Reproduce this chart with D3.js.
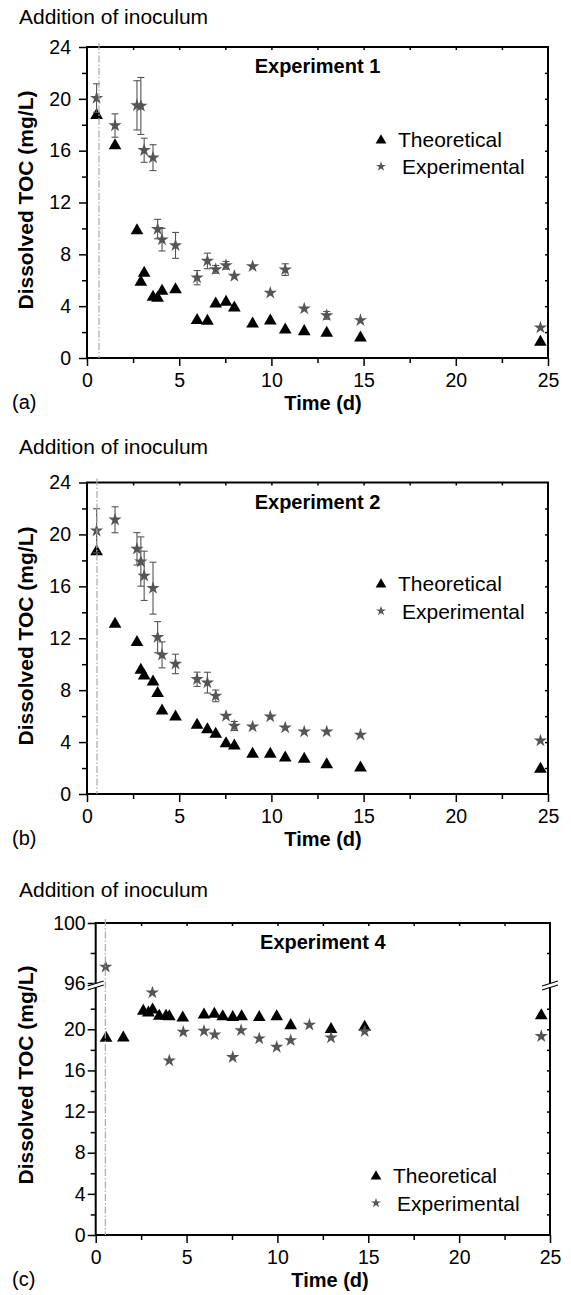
<!DOCTYPE html>
<html>
<head>
<meta charset="utf-8">
<script src="https://cdn.jsdelivr.net/npm/d3@7"></script>
<style>
  body { margin: 0; background: #fff; }
  svg { display: block; font-family: "Liberation Sans", Arial, sans-serif; }
</style>
</head>
<body>
<div id="chart"></div>
<script>
// sampling days shared by experiments 1 and 2 (d)
const daysAB = [0.52, 1.52, 2.71, 2.92, 3.1, 3.58, 3.83, 4.07, 4.8, 5.97, 6.53, 6.98, 7.54, 7.99, 8.98, 9.94, 10.75, 11.78, 13.0, 14.83, 24.59];

// experiment 1 (mg/L)
const exp1Toc  = [20.06, 17.94, 19.5, 19.45, 16.03, 15.46, 9.95, 9.13, 8.69, 6.2, 7.49, 6.84, 7.15, 6.33, 7.07, 5.02, 6.82, 3.81, 3.29, 2.91, 2.34];
const exp1Err  = [1.1, 0.9, 1.9, 2.2, 0.93, 1.0, 0.75, 0.87, 1.0, 0.55, 0.6, 0.3, 0.3, 0, 0, 0, 0.45, 0, 0.3, 0, 0];
const theo1Toc = [18.86, 16.54, 9.98, 6.0, 6.69, 4.84, 4.76, 5.3, 5.43, 3.04, 2.99, 4.32, 4.45, 4.01, 2.78, 3.01, 2.32, 2.19, 2.06, 1.7, 1.37];

// experiment 2 (mg/L)
const exp2Toc  = [20.28, 21.13, 18.89, 17.91, 16.81, 15.86, 12.08, 10.72, 10.02, 8.84, 8.58, 7.56, 6.01, 5.24, 5.19, 5.96, 5.11, 4.8, 4.8, 4.55, 4.11];
const exp2Err  = [1.7, 1.0, 1.25, 1.9, 1.9, 2.0, 1.2, 1.0, 0.75, 0.55, 0.8, 0.45, 0, 0.35, 0, 0, 0, 0, 0, 0, 0];
const theo2Toc = [18.81, 13.24, 11.82, 9.69, 9.25, 8.79, 7.89, 6.55, 6.09, 5.45, 5.11, 4.76, 4.03, 3.85, 3.21, 3.21, 2.93, 2.83, 2.41, 2.16, 2.06];

// experiment 4 (broken axis)
const theo4Days = [0.57, 1.52, 2.62, 2.9, 3.13, 3.5, 3.87, 4.05, 4.79, 5.96, 6.53, 6.99, 7.54, 8.03, 9.0, 9.96, 10.73, 12.95, 14.8, 24.52];
const theo4Toc  = [19.32, 19.35, 21.94, 21.78, 22.07, 21.46, 21.46, 21.42, 21.29, 21.58, 21.65, 21.42, 21.33, 21.42, 21.33, 21.42, 20.55, 20.17, 20.39, 21.52];
const exp4Days  = [0.55, 3.12, 4.05, 4.82, 5.96, 6.55, 7.54, 8.0, 9.0, 9.96, 10.73, 11.76, 12.95, 14.8, 24.52];
const exp4Toc   = [97.07, 23.56, 16.95, 19.74, 19.83, 19.48, 17.28, 19.9, 19.1, 18.28, 18.93, 20.43, 19.19, 19.8, 19.32];

const inoculumDay = [0.65, 0.54, 0.53];

// ticks
const xTicks = [0, 5, 10, 15, 20, 25];
const xMinorTicks = [2.5, 7.5, 12.5, 17.5, 22.5];
const xTopTicks = [2.5, 5, 7.5, 10, 12.5, 15, 17.5, 20, 22.5];
const yTicks = [0, 4, 8, 12, 16, 20, 24];
const yMinorTicks = [2, 6, 10, 14, 18, 22];
const yInnerTicks = [2, 4, 6, 8, 10, 12, 14, 16, 18, 20, 22];
const yTicksLow = [0, 4, 8, 12, 16, 20];
const yTicksHigh = [96, 100];
const yMinorHigh = [98];

const panelTags = ["(a)", "(b)", "(c)"];
const expNames = ["Experiment 1", "Experiment 2", "Experiment 4"];
const seriesNames = ["Theoretical", "Experimental"];

const W = 571, H = 1295;
const STAR_COL = "#555";

const svg = d3.select("#chart").append("svg")
	.attr("width", W)
	.attr("height", H);
svg.append("rect").attr("width", W).attr("height", H).attr("fill", "#fff");

const triSize = 70, starSize = 55;
const triPath = d3.symbol().type(d3.symbolTriangle).size(triSize)();
const starPath = d3.symbol().type(d3.symbolStar).size(starSize)();
// shift so the triangle's box (not its centroid) sits on the point
const triShift = Math.sqrt(triSize / (3 * Math.sqrt(3))) / 2;
const fmt = d3.format("d");

function styleAxis(sel, fs) {
	sel.select(".domain").remove();
	sel.attr("font-family", null).attr("font-size", null);
	sel.selectAll("line").attr("stroke", "#000").attr("stroke-width", 1.5);
	sel.selectAll("text").attr("fill", "#000").style("font-size", fs + "px");
}

function drawPanel(i, cfg) {
	var w = cfg.right - cfg.left, h = cfg.bottom - cfg.top;
	var g = svg.append("g").attr("transform", "translate(" + cfg.left + "," + cfg.top + ")");
	var x = d3.scaleLinear().domain([0, 25]).range([0, w]);
	var segs = cfg.segments(h);
	var y = function (v) {
		var s = segs.find(s => v >= s.scale.domain()[0] && v <= s.scale.domain()[1]);
		return s.scale(v);
	};

	// y axes (left outward, right inward)
	segs.forEach(s => {
		g.append("g")
			.call(d3.axisLeft(s.scale).tickValues(s.major).tickSize(8).tickPadding(cfg.yPad).tickFormat(fmt))
			.call(styleAxis, 19.5);
		g.append("g")
			.call(d3.axisLeft(s.scale).tickValues(s.minor).tickSize(5).tickFormat(""))
			.call(styleAxis, 19.5);
		g.append("g")
			.attr("transform", "translate(" + w + ",0)")
			.call(d3.axisLeft(s.scale).tickValues(s.inner).tickSize(3).tickFormat(""))
			.call(styleAxis, 19.5);
	});

	// x axes
	g.append("g")
		.attr("transform", "translate(0," + h + ")")
		.call(d3.axisBottom(x).tickValues(xTicks).tickSize(8).tickPadding(7).tickFormat(fmt))
		.call(styleAxis, 19.5);
	g.append("g")
		.attr("transform", "translate(0," + h + ")")
		.call(d3.axisBottom(x).tickValues(xMinorTicks).tickSize(5).tickFormat(""))
		.call(styleAxis, 19.5);
	g.append("g")
		.call(d3.axisBottom(x).tickValues(xTopTicks).tickSize(3).tickFormat(""))
		.call(styleAxis, 19.5);

	// frame
	g.append("rect")
		.attr("width", w).attr("height", h)
		.attr("fill", "none").attr("stroke", "#000").attr("stroke-width", 2);

	// axis break marks
	if (cfg.breakY != null) {
		[0, w].forEach(bx => {
			g.append("rect")
				.attr("x", bx - 3).attr("y", cfg.breakY - 1.5)
				.attr("width", 6).attr("height", 4).attr("fill", "#fff");
			[0, 4].forEach(off => {
				g.append("line")
					.attr("x1", bx - 8).attr("y1", cfg.breakY + 1 + off)
					.attr("x2", bx + 8).attr("y2", cfg.breakY - 4 + off)
					.attr("stroke", "#000").attr("stroke-width", 1.2);
			});
		});
	}

	// theoretical
	g.append("g").selectAll("path")
		.data(cfg.theo)
		.join("path")
		.attr("d", triPath)
		.attr("transform", d => "translate(" + x(d[0]) + "," + (y(d[1]) + triShift) + ")")
		.attr("fill", "#000");

	// error bars
	var eb = g.append("g").attr("stroke", STAR_COL).attr("stroke-width", 1.1);
	cfg.exp.filter(d => d[2] > 0).forEach(d => {
		var cx = x(d[0]), y0 = y(d[1] - d[2]), y1 = y(d[1] + d[2]);
		eb.append("line").attr("x1", cx).attr("x2", cx).attr("y1", y0).attr("y2", y1);
		eb.append("line").attr("x1", cx - 3.5).attr("x2", cx + 3.5).attr("y1", y0).attr("y2", y0);
		eb.append("line").attr("x1", cx - 3.5).attr("x2", cx + 3.5).attr("y1", y1).attr("y2", y1);
	});

	// experimental
	g.append("g").selectAll("path")
		.data(cfg.exp)
		.join("path")
		.attr("d", starPath)
		.attr("transform", d => "translate(" + x(d[0]) + "," + y(d[1]) + ")")
		.attr("fill", STAR_COL);

	// inoculum line
	g.append("line")
		.attr("x1", x(inoculumDay[i])).attr("x2", x(inoculumDay[i]))
		.attr("y1", -4).attr("y2", h)
		.attr("stroke", "#aaa").attr("stroke-width", 1.2)
		.attr("stroke-dasharray", "7,2,1.5,2");

	// texts
	svg.append("text")
		.attr("x", 19).attr("y", cfg.annoY)
		.style("font-size", "21px")
		.text("Addition of inoculum");

	g.append("text")
		.attr("x", w / 2).attr("y", 26)
		.attr("text-anchor", "middle")
		.style("font-size", "20px").style("font-weight", "bold")
		.text(expNames[i]);

	// legend
	var lg = svg.append("g");
	lg.append("path")
		.attr("d", d3.symbol().type(d3.symbolTriangle).size(50)())
		.attr("transform", "translate(" + cfg.legX + "," + (cfg.legY[0] + 1.5) + ")");
	lg.append("path")
		.attr("d", d3.symbol().type(d3.symbolStar).size(31)())
		.attr("fill", STAR_COL)
		.attr("transform", "translate(" + cfg.legX + "," + cfg.legY[1] + ")");
	lg.append("text")
		.attr("x", cfg.legX + 17).attr("y", cfg.legY[0]).attr("dy", "0.36em")
		.style("font-size", "21px").text(seriesNames[0]);
	lg.append("text")
		.attr("x", cfg.legX + 21).attr("y", cfg.legY[1]).attr("dy", "0.36em")
		.style("font-size", "21px").text(seriesNames[1]);

	// axis titles
	svg.append("text")
		.attr("transform", "translate(25," + cfg.yTitleY + ") rotate(-90)")
		.attr("text-anchor", "middle").attr("dy", "0.36em")
		.style("font-size", "21px").style("font-weight", "bold")
		.text("Dissolved TOC (mg/L)");
	svg.append("text")
		.attr("x", cfg.xTitleX).attr("y", cfg.bottom + 52)
		.attr("text-anchor", "middle")
		.style("font-size", "20px").style("font-weight", "bold")
		.text("Time (d)");
	svg.append("text")
		.attr("x", 12).attr("y", cfg.bottom + 51)
		.style("font-size", "20px")
		.text(panelTags[i]);
}

var zip = (a, b, c) => a.map((v, k) => c ? [v, b[k], c[k]] : [v, b[k]]);

var simpleSegments = h => [{
	scale: d3.scaleLinear().domain([0, 24]).range([h, 0]),
	major: yTicks, minor: yMinorTicks, inner: yInnerTicks
}];

drawPanel(0, {
	left: 87, right: 548, top: 47, bottom: 358, yPad: 8,
	segments: simpleSegments,
	theo: zip(daysAB, theo1Toc), exp: zip(daysAB, exp1Toc, exp1Err),
	annoY: 24, legX: 381, legY: [139, 166.5], yTitleY: 200, xTitleX: 323
});

drawPanel(1, {
	left: 87, right: 548, top: 482.5, bottom: 794, yPad: 8,
	segments: simpleSegments,
	theo: zip(daysAB, theo2Toc), exp: zip(daysAB, exp2Toc, exp2Err),
	annoY: 454, legX: 381, legY: [583, 611], yTitleY: 636, xTitleX: 323
});

drawPanel(2, {
	left: 95.7, right: 550, top: 923, bottom: 1235, yPad: 2, breakY: 62,
	segments: h => [
		{ scale: d3.scaleLinear().domain([0, 24.5]).range([h, 60]),
		  major: yTicksLow, minor: yMinorTicks, inner: yInnerTicks },
		{ scale: d3.scaleLinear().domain([96, 100]).range([60, 0]),
		  major: yTicksHigh, minor: yMinorHigh, inner: yMinorHigh }
	],
	theo: zip(theo4Days, theo4Toc), exp: exp4Days.map((d, k) => [d, exp4Toc[k], 0]),
	annoY: 897, legX: 376, legY: [1175, 1203], yTitleY: 1075, xTitleX: 330
});
</script>
</body>
</html>
